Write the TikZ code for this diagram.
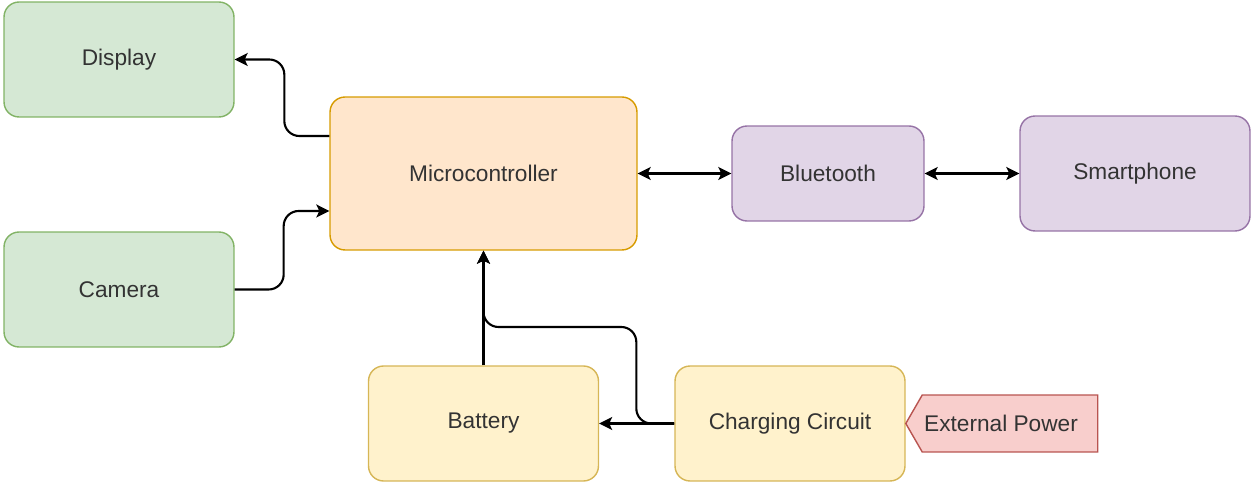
\documentclass[tikz,border=0pt]{standalone}
\usepackage{fontspec}
\setmainfont{Liberation Sans}
\usetikzlibrary{arrows.meta,shapes.symbols}

\definecolor{grnfill}{HTML}{D5E8D4}
\definecolor{grnline}{HTML}{82B366}
\definecolor{orgfill}{HTML}{FFE6CC}
\definecolor{orgline}{HTML}{D79B00}
\definecolor{purfill}{HTML}{E1D5E7}
\definecolor{purline}{HTML}{9673A6}
\definecolor{yelfill}{HTML}{FFF2CC}
\definecolor{yelline}{HTML}{D6B656}
\definecolor{redfill}{HTML}{F8CECC}
\definecolor{redline}{HTML}{B85450}
\definecolor{txt}{HTML}{333333}

\tikzset{
  block/.style={draw, line width=0.8pt, rounded corners=0.3cm, align=center,
    text=txt, font=\fontsize{12.9}{15}\selectfont,
    minimum width=4.6cm, minimum height=2.3cm, inner sep=0pt},
  peripheral/.style={block, fill=grnfill, draw=grnline},
  mcu/.style={block, fill=orgfill, draw=orgline, minimum width=6.14cm, minimum height=3.06cm},
  wireless/.style={block, fill=purfill, draw=purline},
  power/.style={block, fill=yelfill, draw=yelline},
  source/.style={draw=redline, fill=redfill, line width=0.8pt, shape=signal,
    signal to=west, signal from=nowhere, signal pointer angle=120,
    text=txt, font=\fontsize{12.9}{15}\selectfont,
    minimum width=3.84cm, minimum height=1.14cm, inner sep=0pt},
  tip/.tip={Stealth[length=2.6mm,width=2.6mm,inset=0.6mm]},
  conn/.style={line width=1.2pt, rounded corners=0.3cm, -tip},
  biconn/.style={conn, tip-tip}
}

\begin{document}
\begin{tikzpicture}[x=0.02cm, y=-0.02cm]
  \useasboundingbox (0,0) rectangle (1252,482);

  % Blocks
  \node[peripheral] (display) at (119,59.5) {Display};
  \node[peripheral] (camera) at (119,289.5) {Camera};
  \node[mcu] (micro) at (483.5,173.5) {Microcontroller};
  \node[wireless, minimum width=3.84cm, minimum height=1.9cm] (bluetooth) at (828,173.5) {Bluetooth};
  \node[wireless] (phone) at (1135,173.5) {Smartphone};
  \node[power] (battery) at (483.5,423.5) {Battery};
  \node[power] (charger) at (790,423.5) {Charging Circuit};
  \node[source] (ext) at (1010,423.5) {External Power\kern0.36cm};

  % Data links
  \draw[conn] ([yshift=0.75cm]micro.west) -- ++(-45,0) |- (display.east);
  \draw[conn] (camera.east) -- ++(49,0) |- ([yshift=-0.75cm]micro.west);
  \draw[biconn] (micro.east) -- (bluetooth.west);
  \draw[biconn] (bluetooth.east) -- (phone.west);

  % Power paths
  \coordinate (join) at (483.5,327);
  \draw[conn] (battery.north) -- (micro.south);
  \draw[conn] (charger.west) -- (battery.east);
  \draw[conn] (charger.west) -- ++(-38,0) |- (join) -- (micro.south);
\end{tikzpicture}
\end{document}
